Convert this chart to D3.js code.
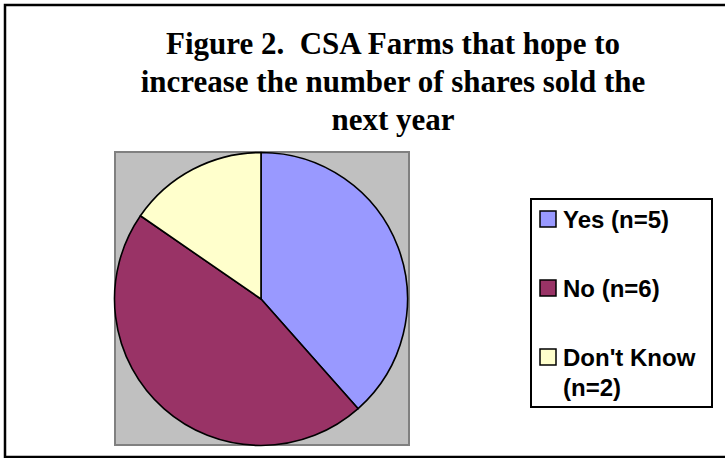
<!DOCTYPE html>
<html>
  <head>
    <meta charset="UTF-8" />
    <script src="https://cdnjs.cloudflare.com/ajax/libs/d3/7.8.5/d3.min.js"></script>
    <style>
      body { margin: 0; background: #fff; }
    </style>
  </head>
  <body>
    <svg id="chart" width="725" height="458"></svg>
    <script>
      const titleLines = [
        "Figure 2.  CSA Farms that hope to",
        "increase the number of shares sold the",
        "next year"
      ];
      const categories = ["Yes", "No", "Don't Know"];
      const counts = [5, 6, 2];
      const legendLines = [["Yes (n=5)"], ["No (n=6)"], ["Don't Know", "(n=2)"]];
      const colors = ["#9999ff", "#993366", "#ffffcc"];

      const svg = d3.select("#chart");

      // outer frame (right side runs off the picture)
      svg.append("path")
        .attr("d", "M 740 5 H 5 V 457 H 740")
        .attr("fill", "none")
        .attr("stroke", "#000")
        .attr("stroke-width", 2.5);

      // title
      svg.append("g")
        .selectAll("text")
        .data(titleLines)
        .enter()
        .append("text")
        .attr("x", 393)
        .attr("y", (d, i) => 54 + i * 38)
        .attr("text-anchor", "middle")
        .style("white-space", "pre")
        .style("font-family", "'Liberation Serif', 'Times New Roman', serif")
        .style("font-weight", "bold")
        .style("font-size", "31px")
        .text(d => d);

      // plot area
      svg.append("rect")
        .attr("x", 115)
        .attr("y", 152)
        .attr("width", 294)
        .attr("height", 293)
        .attr("fill", "#c0c0c0")
        .attr("stroke", "#808080")
        .attr("stroke-width", 2);

      const pie = d3.pie().sort(null).value(d => d);
      const arc = d3.arc().innerRadius(0).outerRadius(146.5);

      svg.append("g")
        .attr("transform", "translate(261,299)")
        .selectAll("path")
        .data(pie(counts))
        .enter()
        .append("path")
        .attr("d", arc)
        .attr("fill", (d, i) => colors[i])
        .attr("stroke", "#000")
        .attr("stroke-width", 1.6)
        .attr("stroke-linejoin", "round");

      // legend
      svg.append("rect")
        .attr("x", 531)
        .attr("y", 199)
        .attr("width", 181)
        .attr("height", 208)
        .attr("fill", "#fff")
        .attr("stroke", "#000")
        .attr("stroke-width", 2);

      const legendY = d3.scalePoint()
        .domain(categories)
        .range([228, 366]);

      const item = svg.append("g")
        .selectAll("g")
        .data(categories)
        .enter()
        .append("g")
        .attr("transform", d => `translate(0,${legendY(d)})`);

      item.append("rect")
        .attr("x", 540)
        .attr("y", -17)
        .attr("width", 16)
        .attr("height", 16)
        .attr("fill", (d, i) => colors[i])
        .attr("stroke", "#000")
        .attr("stroke-width", 1.5);

      item.each(function (d, i) {
        d3.select(this)
          .selectAll("text")
          .data(legendLines[i])
          .enter()
          .append("text")
          .attr("x", 563)
          .attr("y", (t, j) => j * 30)
          .style("font-family", "'Liberation Sans', Arial, sans-serif")
          .style("font-weight", "bold")
          .style("font-size", "24px")
          .text(t => t);
      });
    </script>
  </body>
</html>
